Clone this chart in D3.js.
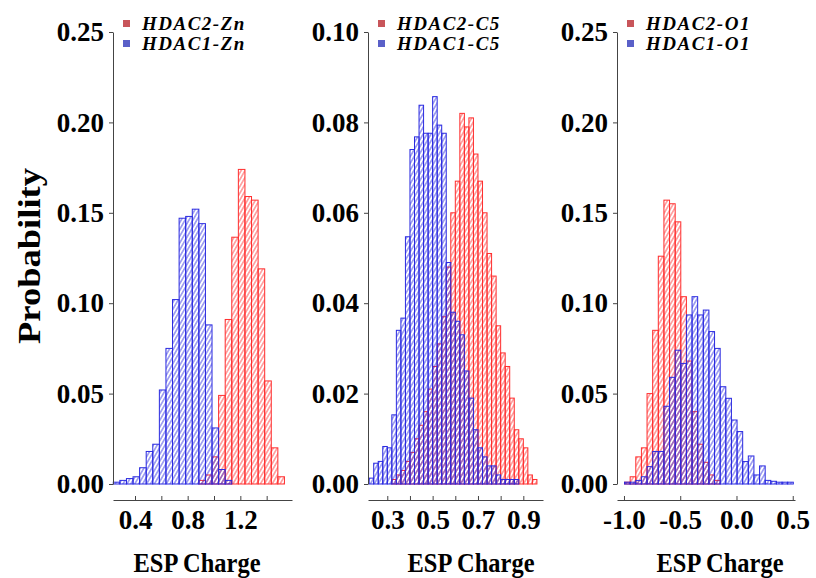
<!DOCTYPE html>
<html>
<head>
<meta charset="utf-8">
<script src="https://d3js.org/d3.v7.min.js"></script>
<style>
body { margin: 0; background: #fff; }
text { font-family: "Liberation Serif", "Times New Roman", serif; font-weight: bold; }
</style>
</head>
<body>
<svg width="816" height="578"></svg>
<script>
// ESP charge histograms, probability per bin
// Zn
var znBinStart = 0.235, znBinWidth = 0.05;
var znHDAC1 = [0.001,0.002,0.003,0.004,0.009,0.018,0.022,0.052,0.075,0.102,0.147,0.148,0.152,0.144,0.088,0.031,0.008,0.002];
var znHDAC2 = [0,0,0,0,0,0,0,0,0,0,0,0,0,0.002,0.005,0.015,0.049,0.091,0.1365,0.174,0.159,0.157,0.119,0.057,0.020,0.004];
var znTicks = [0.4,0.6,0.8,1.0,1.2,1.4];
var znLabels = [0.4,0.8,1.2];

// C5
var c5BinStart = 0.22, c5BinWidth = 0.02;
var c5HDAC1 = [0.0013,0.0046,0.005,0.0083,0.008,0.0153,0.034,0.0367,0.0547,0.074,0.0768,0.0838,0.0776,0.0776,0.0857,0.0794,0.0776,0.049,0.038,0.036,0.033,0.025,0.019,0.012,0.008,0.006,0.004,0.004,0.002,0.001,0.001,0.001,0.001,0,0,0,0];
var c5HDAC2 = [0,0,0,0,0,0.001,0.002,0.003,0.005,0.007,0.010,0.013,0.016,0.021,0.026,0.031,0.037,0.048,0.060,0.067,0.082,0.079,0.081,0.073,0.067,0.060,0.051,0.046,0.035,0.029,0.026,0.019,0.012,0.010,0.008,0.002,0.001];
var c5Ticks = [0.3,0.4,0.5,0.6,0.7,0.8,0.9];
var c5Labels = [0.3,0.5,0.7,0.9];

// O1
var o1BinStart = -0.995, o1BinWidth = 0.05;
var o1HDAC1 = [0.001,0.001,0.002,0.004,0.0096,0.018,0.018,0.043,0.059,0.074,0.0667,0.0935,0.1036,0.0935,0.0962,0.0843,0.075,0.0538,0.0474,0.0354,0.029,0.0124,0.0155,0.005,0.010,0.002,0.0015,0.001,0.001,0.001];
var o1HDAC2 = [0.001,0.004,0.015,0.020,0.050,0.085,0.126,0.157,0.155,0.145,0.1036,0.068,0.040,0.022,0.012,0.005,0.002];
var o1Ticks = [-1.0,-0.5,0.0,0.5];
var o1Labels = [-1.0,-0.5,0.0,0.5];

var svg = d3.select("svg");
var red = "#ff2e2e", blue = "#2a2ae0";

// hatch patterns
var defs = svg.append("defs");
[["hatchRed", red], ["hatchBlue", blue]].forEach(function(p){
  var pat = defs.append("pattern")
    .attr("id", p[0])
    .attr("patternUnits", "userSpaceOnUse")
    .attr("width", 3.4).attr("height", 3.4)
    .attr("patternTransform", "rotate(30)");
  pat.append("line")
    .attr("x1", 1.7).attr("y1", 0).attr("x2", 1.7).attr("y2", 3.4)
    .attr("stroke", p[1]).attr("stroke-width", 0.9).attr("stroke-opacity", 0.85);
});

var panels = [
  {left: 113, right: 292, dom: [0.2329, 1.5924], yMax: 0.25, yStep: 0.05, start: znBinStart, w: znBinWidth,
   h1: znHDAC1, h2: znHDAC2, ticks: znTicks, labels: znLabels, names: ["HDAC2-Zn","HDAC1-Zn"], titleX: 197},
  {left: 368, right: 543, dom: [0.2149, 0.9868], yMax: 0.10, yStep: 0.02, start: c5BinStart, w: c5BinWidth,
   h1: c5HDAC1, h2: c5HDAC2, ticks: c5Ticks, labels: c5Labels, names: ["HDAC2-C5","HDAC1-C5"], titleX: 471},
  {left: 617, right: 795, dom: [-1.062, 0.520], yMax: 0.25, yStep: 0.05, start: o1BinStart, w: o1BinWidth,
   h1: o1HDAC1, h2: o1HDAC2, ticks: o1Ticks, labels: o1Labels, names: ["HDAC2-O1","HDAC1-O1"], titleX: 720}
];

var yTop = 32, yBottom = 484, xAxisY = 500;
var fmt1 = function(d){ return d3.format(".1f")(d).replace("\u2212", "-"); };

panels.forEach(function(p){
  var x = d3.scaleLinear().domain(p.dom).range([p.left, p.right]);
  var y = d3.scaleLinear().domain([0, p.yMax]).range([yBottom, yTop]);
  var g = svg.append("g");

  function drawBars(vals, fill, stroke){
    g.append("g").selectAll("rect")
      .data(vals.map(function(v, i){ return {x0: p.start + i * p.w, v: v}; }).filter(function(d){ return d.v > 0; }))
      .enter().append("rect")
      .attr("x", function(d){ return x(d.x0); })
      .attr("width", function(d){ return x(d.x0 + p.w) - x(d.x0); })
      .attr("y", function(d){ return y(d.v); })
      .attr("height", function(d){ return y(0) - y(d.v); })
      .attr("fill", fill)
      .attr("stroke", stroke)
      .attr("stroke-width", 1);
  }
  drawBars(p.h2, "url(#hatchRed)", red);
  drawBars(p.h1, "url(#hatchBlue)", blue);

  // y axis
  var yAxis = d3.axisLeft(y)
    .tickValues(d3.range(0, p.yMax + 1e-9, p.yStep))
    .tickFormat(d3.format(".2f"))
    .tickSize(4).tickSizeOuter(0).tickPadding(5);
  var ya = g.append("g").attr("transform", "translate(" + p.left + ",0)").call(yAxis);
  ya.selectAll("text").style("font-size", "27px").attr("fill", "#000");
  ya.selectAll("path, line").attr("stroke", "#444");

  // x axis (offset below bars)
  var xAxis = d3.axisBottom(x)
    .tickValues(p.ticks)
    .tickFormat(function(d){ return p.labels.some(function(l){ return Math.abs(l - d) < 1e-9; }) ? fmt1(d) : ""; })
    .tickSize(-4).tickSizeOuter(0).tickPadding(10);
  var xa = g.append("g").attr("transform", "translate(0," + xAxisY + ")").call(xAxis);
  xa.selectAll("text").style("font-size", "27px").attr("fill", "#000");
  xa.selectAll("path, line").attr("stroke", "#444");

  g.append("text")
    .attr("x", p.titleX).attr("y", 572)
    .attr("text-anchor", "middle")
    .attr("textLength", 127).attr("lengthAdjust", "spacingAndGlyphs")
    .style("font-size", "28px")
    .text("ESP Charge");

  // legend
  var lg = g.append("g").attr("transform", "translate(" + (p.left + 10) + ",0)");
  [[red, "#c8555a"], [blue, "#5a60c8"]].forEach(function(c, i){
    lg.append("rect").attr("x", 0).attr("y", 20 + i * 20).attr("width", 7).attr("height", 7)
      .attr("fill", c[1]);
    lg.append("text").attr("x", 19).attr("y", 30 + i * 20)
      .style("font-size", "19px").style("font-style", "italic").style("letter-spacing", "1.5px")
      .text(p.names[i]);
  });
});

svg.append("text")
  .attr("transform", "translate(40,256) rotate(-90)")
  .attr("text-anchor", "middle")
  .attr("textLength", 176).attr("lengthAdjust", "spacingAndGlyphs")
  .style("font-size", "31px")
  .text("Probability");
</script>
</body>
</html>
